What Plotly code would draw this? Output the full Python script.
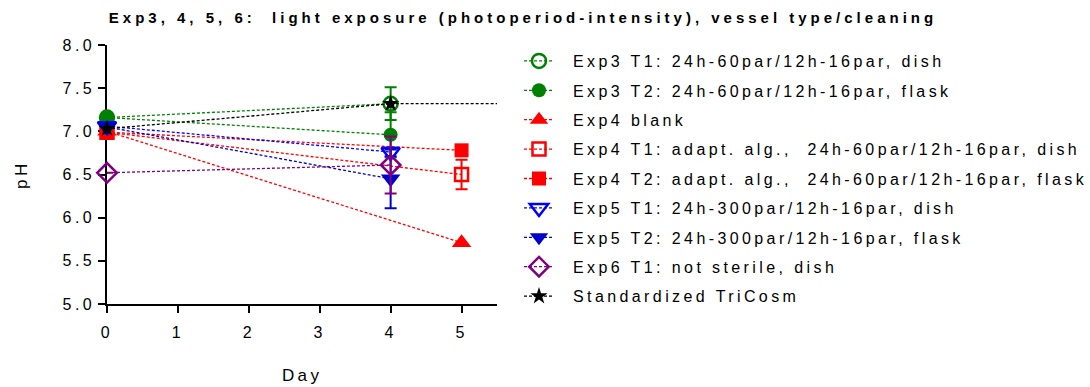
import plotly.graph_objects as go

# pH over time for experiments 3-6
days_short = [0, 4]
days_long = [0, 5]
days_std = [0, 4, 6]

exp3_t1 = [7.16, 7.32]
exp3_t1_sd = [0, 0.19]
exp3_t2 = [7.16, 6.96]
exp3_t2_sd = [0, 0.26]
exp4_blank = [7.00, 5.71]
exp4_t1 = [6.99, 6.50]
exp4_t1_sd = [0, 0.17]
exp4_t2 = [6.99, 6.78]
exp4_t2_sd = [0, 0.04]
exp5_t1 = [7.06, 6.76]
exp5_t1_sd = [0, 0.05]
exp5_t2 = [7.05, 6.45]
exp5_t2_sd = [0, 0.34]
exp6_t1 = [6.52, 6.61]
exp6_t1_sd = [0, 0.33]
std_tricosm = [7.03, 7.32, 7.32]

y_ticks = [5.0, 5.5, 6.0, 6.5, 7.0, 7.5, 8.0]
x_ticks = [0, 1, 2, 3, 4, 5]

GREEN = "#008000"
RED = "#FF0000"
BLUE = "#0000FF"
DBLUE = "#0000CC"
PURPLE = "#800080"
BLACK = "#000000"

X_MAX = 5.5

series = [
    ("Exp3 T1: 24h-60par/12h-16par, dish", days_short, exp3_t1, exp3_t1_sd, GREEN, "circle-open", 14),
    ("Exp3 T2: 24h-60par/12h-16par, flask", days_short, exp3_t2, exp3_t2_sd, GREEN, "circle", 14),
    ("Exp4 blank", days_long, exp4_blank, None, RED, "triangle-up", 17),
    ("Exp4 T1: adapt. alg.,  24h-60par/12h-16par, dish", days_long, exp4_t1, exp4_t1_sd, RED, "square-open", 13),
    ("Exp4 T2: adapt. alg.,  24h-60par/12h-16par, flask", days_long, exp4_t2, exp4_t2_sd, RED, "square", 14),
    ("Exp5 T1: 24h-300par/12h-16par, dish", days_short, exp5_t1, exp5_t1_sd, BLUE, "triangle-down-open", 16),
    ("Exp5 T2: 24h-300par/12h-16par, flask", days_short, exp5_t2, exp5_t2_sd, DBLUE, "triangle-down", 17),
    ("Exp6 T1: not sterile, dish", days_short, exp6_t1, exp6_t1_sd, PURPLE, "diamond-open", 15),
    ("Standardized TriCosm", days_std, std_tricosm, None, BLACK, "star", 13),
]

DASH = dict(width=1.3, dash="3px,2px")

fig = go.Figure()
for i, (name, xs, ys, sd, color, symbol, size) in enumerate(series):
    # points beyond the axis range only continue the line off the right edge
    keep = [k for k, x in enumerate(xs) if x <= X_MAX]
    if len(keep) < len(xs):
        last = keep[-1]
        fig.add_trace(go.Scatter(
            x=xs[last:], y=ys[last:], mode="lines", showlegend=False,
            line=dict(color=color, **DASH), hoverinfo="skip",
            legendgroup=f"g{i}",
        ))
    err = None
    if sd is not None:
        err = dict(type="data", array=[sd[k] for k in keep], visible=True,
                   color=color, thickness=2, width=6)
    fig.add_trace(go.Scatter(
        x=[xs[k] for k in keep], y=[ys[k] for k in keep], name=name,
        mode="lines+markers",
        line=dict(color=color, **DASH),
        marker=dict(symbol=symbol, size=size, color=color,
                    line=dict(color=color, width=2.5 if "open" in symbol else 0)),
        error_y=err, cliponaxis=False,
        legendgroup=f"g{i}",
    ))

FONT = "Liberation Sans, Arial, sans-serif"
PLOT_W = 390
PLOT_H = 259

fig.update_layout(
    width=1090, height=387,
    margin=dict(l=107, r=593, t=45, b=83, autoexpand=False),
    paper_bgcolor="white", plot_bgcolor="white",
    font=dict(family=FONT, size=15, color="black"),
    title=dict(
        text="<b>Exp3, 4, 5, 6:  light exposure (photoperiod-intensity), vessel type/cleaning</b>",
        x=523 / 1090, xref="container", xanchor="center",
        y=1 - 18 / 387, yref="container", yanchor="middle",
        font=dict(family=FONT, size=15, color="black"),
    ),
    showlegend=True,
    legend=dict(
        x=(519 - 107) / PLOT_W, xanchor="left",
        y=1 + 1 / PLOT_H, yanchor="top",
        font=dict(family=FONT, size=16, color="black"),
        traceorder="grouped", tracegroupgap=5.6,
        itemwidth=30, bgcolor="rgba(0,0,0,0)", maxheight=380,
    ),
    xaxis=dict(
        range=[0, X_MAX], tickmode="array", tickvals=x_ticks,
        ticktext=[str(t) for t in x_ticks],
        showline=True, linecolor="black", linewidth=1.5,
        ticks="outside", ticklen=7, tickwidth=1.5, tickcolor="black",
        showgrid=False, zeroline=False, layer="below traces",
        tickfont=dict(family=FONT, size=16), ticklabelstandoff=6,
    ),
    yaxis=dict(
        range=[5, 8], tickmode="array", tickvals=y_ticks,
        ticktext=[f"{t:.1f}" for t in y_ticks],
        showline=True, linecolor="black", linewidth=1.5,
        ticks="outside", ticklen=7, tickwidth=1.5, tickcolor="black",
        showgrid=False, zeroline=False, layer="below traces",
        tickfont=dict(family=FONT, size=16),
    ),
    annotations=[
        dict(text="pH", x=-(107 - 21) / PLOT_W, xref="paper", xanchor="center",
             y=0.5, yref="paper", yanchor="middle",
             showarrow=False, textangle=-90, font=dict(family=FONT, size=17)),
        dict(text="Day", x=0.5, xref="paper", xanchor="center",
             y=-(375 - 304) / PLOT_H, yref="paper", yanchor="middle",
             showarrow=False, font=dict(family=FONT, size=17)),
    ],
)

# Wide letter spacing on all text; legend labels sit further from their symbols
spacing_js = """
var gd = document.getElementById('{plot_id}');
gd.querySelectorAll('.gtitle').forEach(function(t){ t.style.letterSpacing = '4px'; });
gd.querySelectorAll('.legendtext, .xtick text, .ytick text, .annotation-text').forEach(function(t){ t.style.letterSpacing = '3.4px'; });
gd.querySelectorAll('.legend .scrollbox').forEach(function(s){ s.removeAttribute('clip-path'); });
gd.querySelectorAll('.legendtext').forEach(function(t){
  t.setAttribute('x', parseFloat(t.getAttribute('x') || 0) + 14);
  t.querySelectorAll('tspan').forEach(function(s){
    if (s.hasAttribute('x')) s.setAttribute('x', parseFloat(s.getAttribute('x')) + 14);
  });
});
"""

fig.write_html("out.html", post_script=spacing_js)
